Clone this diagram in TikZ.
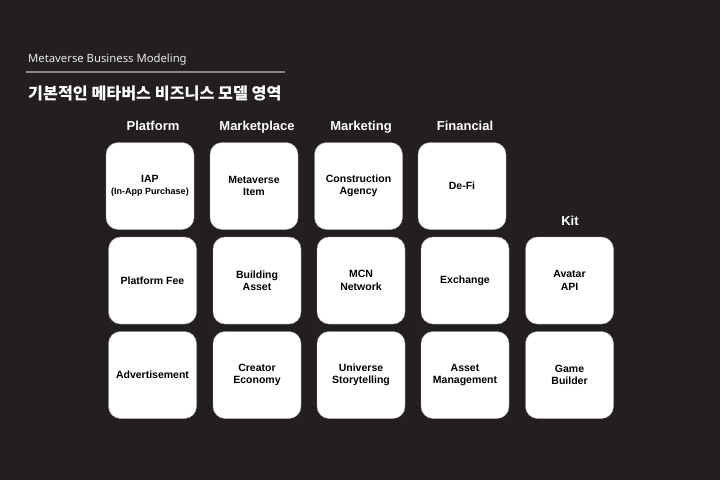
\documentclass[tikz,border=0pt]{standalone}
\usepackage{fontspec}
\setmainfont{Liberation Sans}
\newfontfamily\notofont{Noto Sans}
\newfontfamily\krfont{Noto Sans CJK KR}
\definecolor{bgdark}{HTML}{231F20}
\definecolor{rulegray}{HTML}{8A8788}
\begin{document}
\begin{tikzpicture}[x=1pt, y=-1pt,
  cell/.style={draw=black!35, fill=white, rounded corners=12pt, minimum width=88pt,
    minimum height=87pt, align=center, text=black, font=\bfseries\fontsize{10.5}{12.5}\selectfont},
  head/.style={anchor=base, text=white, font=\bfseries\fontsize{13}{15}\selectfont}]

\fill[bgdark] (0,0) rectangle (720,480);
\useasboundingbox (0,0) rectangle (720,480);

% ---------- title ----------
\node[anchor=base west, inner sep=0pt, text=white!92!black, font=\notofont\fontsize{11.3}{14}\selectfont] (sub) at (28,62) {Metaverse Business Modeling};
\coordinate (rulel) at (26,72);
\coordinate (ruler) at (285,72);
\draw[rulegray, line width=1.2pt] (rulel) -- (ruler);
\node[anchor=base west, inner sep=0pt, text=white, font=\krfont\bfseries\fontsize{16.2}{20}\selectfont] (title) at (28,99) {기본적인 메타버스 비즈니스 모델 영역};

% ---------- column heads ----------
\node[head] (hplat) at (153,130) {Platform};
\node[head] (hmkt) at (257,130) {Marketplace};
\node[head] (hmkg) at (361,130) {Marketing};
\node[head] (hfin) at (465,130) {Financial};
\node[head] (hkit) at (570,225) {Kit};

% ---------- row 1 ----------
\node[cell] (p1) at (150,186) {IAP\\[-1pt]{\fontsize{9}{10.5}\selectfont(In-App Purchase)}};
\node[cell] (m1) at (254,186) {Metaverse\\Item};
\node[cell] (g1) at (358.5,186) {Construction\\Agency};
\node[cell] (f1) at (462,186) {De-Fi};

% ---------- row 2 ----------
\node[cell] (p2) at (152.5,280.5) {Platform Fee};
\node[cell] (m2) at (257,280.5) {Building\\Asset};
\node[cell] (g2) at (361,280.5) {MCN\\Network};
\node[cell] (f2) at (465,280.5) {Exchange};
\node[cell] (k2) at (569.5,280.5) {Avatar\\API};

% ---------- row 3 ----------
\node[cell] (p3) at (152.5,375) {Advertisement};
\node[cell] (m3) at (257,375) {Creator\\Economy};
\node[cell] (g3) at (361,375) {Universe\\Storytelling};
\node[cell] (f3) at (465,375) {Asset\\Management};
\node[cell] (k3) at (569.5,375) {Game\\Builder};

\end{tikzpicture}
\end{document}
